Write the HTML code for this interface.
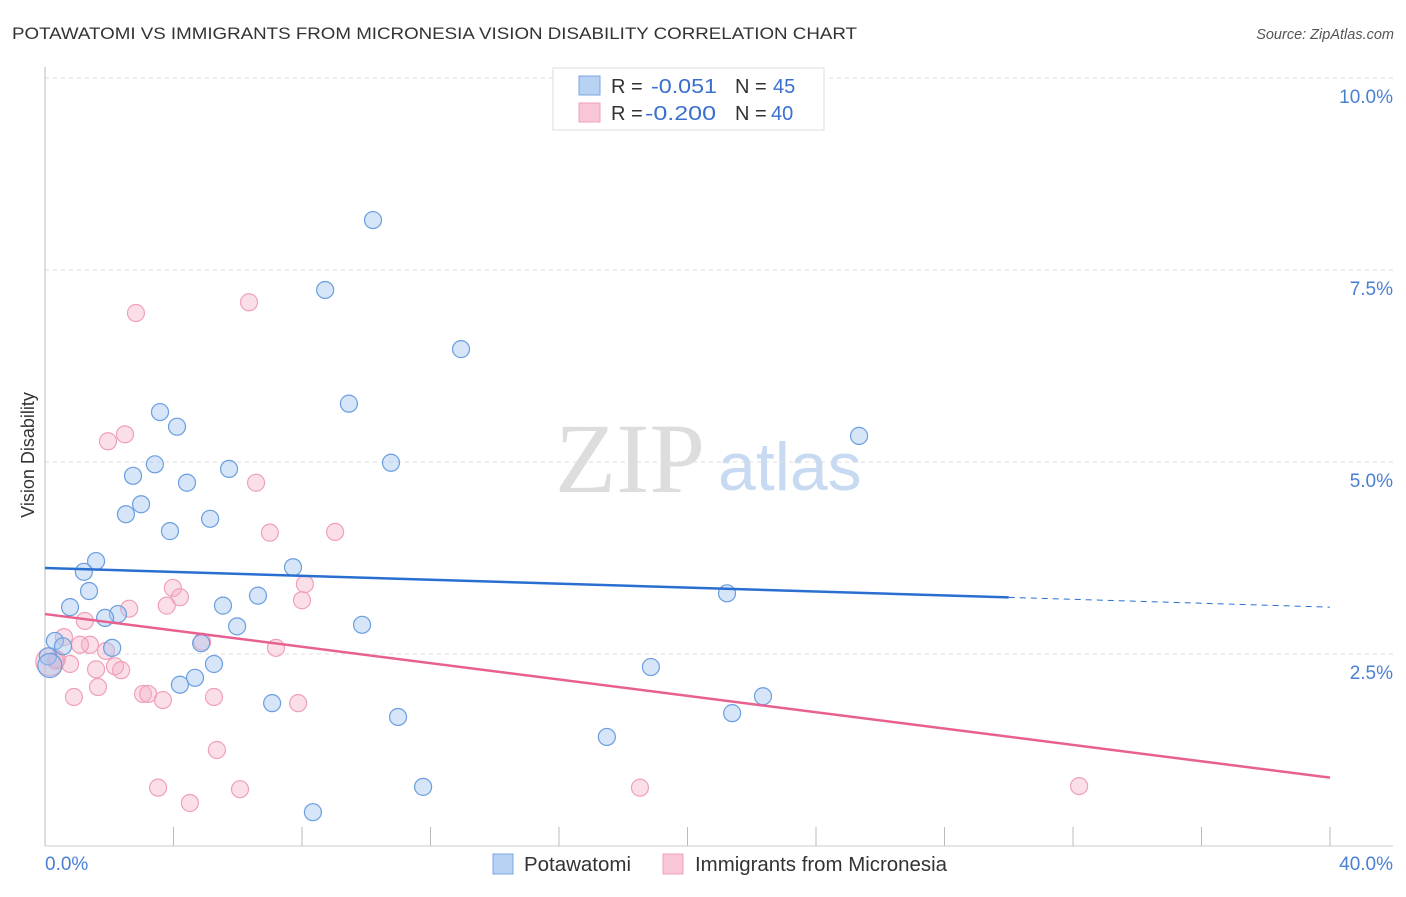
<!DOCTYPE html>
<html><head><meta charset="utf-8"><style>
body{margin:0;background:#fff;font-family:"Liberation Sans",sans-serif;}
</style></head><body>
<svg width="1406" height="892" xmlns="http://www.w3.org/2000/svg" id="chart">
<text x="12" y="39" font-size="17" fill="#333" textLength="845" lengthAdjust="spacingAndGlyphs">POTAWATOMI VS IMMIGRANTS FROM MICRONESIA VISION DISABILITY CORRELATION CHART</text>
<text x="1394" y="39" font-size="14.5" fill="#555" font-style="italic" text-anchor="end">Source: ZipAtlas.com</text>
<text x="555" y="492" font-size="100" fill="#ddd" font-family="Liberation Serif,serif">ZIP</text>
<text x="718" y="490" font-size="68" fill="#c8daf2">atlas</text>
<text transform="translate(34,455) rotate(-90)" font-size="18" fill="#333" text-anchor="middle">Vision Disability</text>
<g id="grid"></g><g id="axes"></g><g id="pts"></g><g id="lines"></g>
<g>
<rect x="553" y="68" width="271" height="62" fill="#fff" stroke="#ddd"/>
<rect x="579" y="76" width="21" height="19" fill="#b8d2f4" stroke="#7aa6e0"/>
<rect x="579" y="103" width="21" height="19" fill="#f8c6d6" stroke="#f0a0b8"/>
<text y="93" font-size="20" fill="#333"><tspan x="611">R =</tspan><tspan x="651" fill="#3a6fd0" textLength="66" lengthAdjust="spacingAndGlyphs">-0.051</tspan><tspan x="735">N =</tspan><tspan x="773" fill="#3a6fd0">45</tspan></text>
<text y="120" font-size="20" fill="#333"><tspan x="611">R =</tspan><tspan x="645" fill="#3a6fd0" textLength="71" lengthAdjust="spacingAndGlyphs">-0.200</tspan><tspan x="735">N =</tspan><tspan x="771" fill="#3a6fd0">40</tspan></text>
</g>
<g>
<rect x="493" y="854" width="20" height="20" fill="#b8d2f4" stroke="#7aa6e0"/>
<text x="524" y="871" font-size="20" fill="#333" textLength="107" lengthAdjust="spacingAndGlyphs">Potawatomi</text>
<rect x="663" y="854" width="20" height="20" fill="#f8c6d6" stroke="#f0a0b8"/>
<text x="695" y="871" font-size="20" fill="#333" textLength="252" lengthAdjust="spacingAndGlyphs">Immigrants from Micronesia</text>
</g>
</svg>
<script>
const yTicks=[2.5,5,7.5,10];
const yTickLabels=["2.5%","5.0%","7.5%","10.0%"];
const xTicks=[0,4,8,12,16,20,24,28,32,36,40];
const blueX=[10.21,8.72,12.95,9.46,25.34,3.58,4.11,3.42,5.73,10.77,2.74,4.42,2.99,2.52,5.14,3.89,1.59,1.21,7.72,1.37,21.23,6.63,0.78,5.54,2.27,1.87,5.98,9.87,0.31,0.56,2.09,4.86,0.09,5.26,18.86,4.67,4.20,22.35,7.07,10.99,21.39,17.49,11.77,8.34,0.15];
const blueY=[8.15,7.24,6.47,5.76,5.34,5.65,5.46,4.97,4.91,4.99,4.82,4.73,4.45,4.32,4.26,4.10,3.71,3.57,3.63,3.32,3.29,3.26,3.11,3.13,3.02,2.97,2.86,2.88,2.67,2.60,2.58,2.64,2.47,2.37,2.33,2.19,2.10,1.95,1.86,1.68,1.73,1.42,0.77,0.44,2.35];
const pinkX=[2.83,6.35,2.49,1.96,6.57,7.00,9.03,3.98,4.20,8.09,8.0,3.79,2.62,1.24,0.59,1.40,1.09,4.89,7.19,1.90,0.34,0.78,1.59,2.18,2.37,1.65,3.05,3.21,3.67,0.90,5.26,7.88,5.35,3.52,4.51,6.07,18.52,32.19,0.15,0.37];
const pinkY=[6.94,7.08,5.36,5.27,4.73,4.08,4.09,3.36,3.24,3.41,3.20,3.13,3.09,2.93,2.72,2.62,2.62,2.66,2.58,2.54,2.41,2.37,2.30,2.34,2.29,2.07,1.98,1.98,1.90,1.94,1.94,1.86,1.25,0.76,0.56,0.74,0.76,0.78,2.4,2.43];
const blueLine=[3.62,3.11]; const blueSolidEnd=30;
const pinkLine=[3.02,0.89];
const NS="http://www.w3.org/2000/svg";
const X=v=>45+v*32.125, Y=v=>846-v*76.8;
function mk(t,a,p){const e=document.createElementNS(NS,t);for(const k in a)e.setAttribute(k,a[k]);document.getElementById(p).appendChild(e);return e;}
yTicks.forEach((t,i)=>{
 const g=mk('line',{x1:45,x2:1393,y1:Y(t),y2:Y(t),stroke:'#ddd','stroke-dasharray':'4,4'},'grid');
 
 
 const l=mk('text',{x:1393,y:Y(t)+25,'font-size':19,fill:'#4a7fd4','text-anchor':'end'},'grid');
 l.textContent=yTickLabels[i];
 
 
});
const ax=mk('line',{x1:45,x2:45,y1:67,y2:846,stroke:'#bbb'},'axes');


const bx=mk('line',{x1:45,x2:1393,y1:846,y2:846,stroke:'#ccc'},'axes');


xTicks.forEach(t=>{const e=mk('line',{x1:X(t),x2:X(t),y1:827,y2:846,stroke:'#bbb'},'axes');
 
 });
const xl0=mk('text',{x:45,y:870,'font-size':19,fill:'#4a7fd4'},'axes');xl0.textContent='0.0%';


const xl1=mk('text',{x:1393,y:870,'font-size':19,fill:'#4a7fd4','text-anchor':'end'},'axes');xl1.textContent='40.0%';


pinkX.forEach((v,i)=>{const r=i===38?14:8.5;const c=mk('circle',{cx:X(v),cy:Y(pinkY[i]),r:r,fill:'rgba(245,175,198,0.4)',stroke:'#f0a0b8','stroke-width':1.2},'pts');
 
 });
blueX.forEach((v,i)=>{const r=i===44?12:8.5;const c=mk('circle',{cx:X(v),cy:Y(blueY[i]),r:r,fill:'rgba(165,198,240,0.45)',stroke:'#6a9ee0','stroke-width':1.2},'pts');
 
 });
const by=x=>blueLine[0]+(blueLine[1]-blueLine[0])*x/40;
const b1=mk('line',{x1:X(0),y1:Y(by(0)),x2:X(blueSolidEnd),y2:Y(by(blueSolidEnd)),stroke:'#2a6fd0','stroke-width':2.5},'lines');


const b2=mk('line',{x1:X(blueSolidEnd),y1:Y(by(blueSolidEnd)),x2:X(40),y2:Y(by(40)),stroke:'#2a6fd0','stroke-width':1,'stroke-dasharray':'6,5'},'lines');


const p1=mk('line',{x1:X(0),y1:Y(pinkLine[0]),x2:X(40),y2:Y(pinkLine[1]),stroke:'#e8608f','stroke-width':2.5},'lines');


</script>
</body></html>
